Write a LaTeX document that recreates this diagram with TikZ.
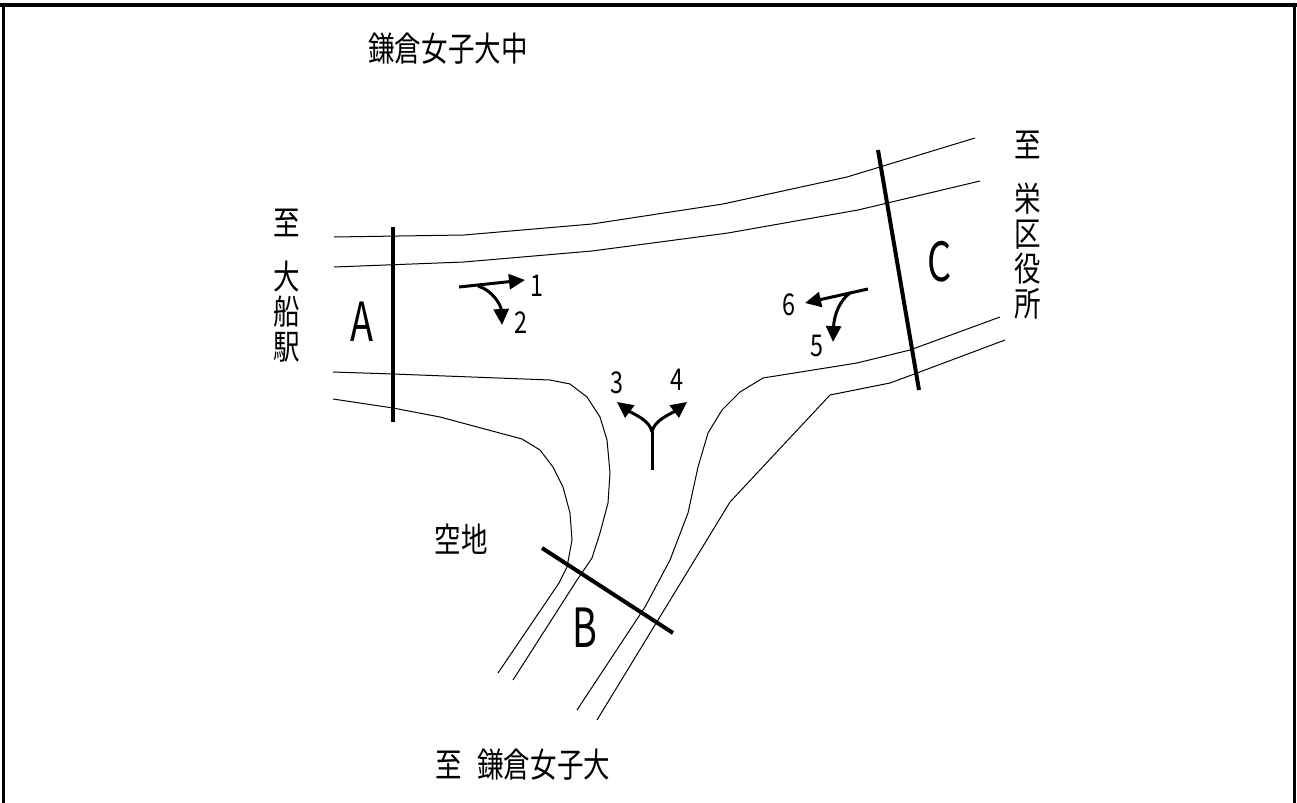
\documentclass[tikz,border=0pt]{standalone}
\usepackage{fontspec}
\newfontfamily\cjk[FakeStretch=0.78]{Noto Sans CJK JP}
\newfontfamily\letterfont[FakeStretch=0.7]{Noto Sans CJK JP}
\usetikzlibrary{arrows.meta, positioning}

\begin{document}
\begin{tikzpicture}[
        x=0.5pt, y=-0.5pt,
        every node/.style={align=center, inner sep=0pt},
        road/.style={line width=0.5pt, line join=round},
        bar/.style={line width=2pt},
        frame/.style={line width=1.5pt},
        turn/.style={-{Triangle[length=8pt, width=7.5pt]}, line width=1.5pt},
        place/.style={font=\cjk\fontsize{17pt}{17.5pt}\selectfont},
        letter/.style={font=\letterfont\fontsize{27pt}{27pt}\selectfont},
        num/.style={font=\cjk\fontsize{15pt}{15pt}\selectfont},
    ]
    \useasboundingbox (0,0) rectangle (1297,803);
    % Frame
    \draw[line width=2pt] (0,5) -- (1297,5);
    \draw[frame] (3,5) -- (3,803);
    \draw[frame] (1294,5) -- (1294,803);
    % Roads
    \draw[road] (334,237) -- (464,235) -- (592,224) -- (723,204) -- (847,177) -- (975,138);
    \draw[road] (334,267) -- (464,262) -- (592,251) -- (728,233) -- (858,210) -- (980,181);
    \draw[road] (333,372) -- (393,374) -- (550,380) -- (570,384) -- (587,397) -- (600,417)
        -- (607,440) -- (610,473) -- (608,503) -- (600,533) -- (592,558) -- (577,580) -- (513,680);
    \draw[road] (333,399) -- (393,408) -- (440,417) -- (522,439) -- (540,450) -- (553,467)
        -- (563,487) -- (570,513) -- (572,540) -- (567,567) -- (559,583) -- (498,673);
    \draw[road] (1000,317) -- (910,350) -- (857,363) -- (763,378) -- (740,392) -- (722,410)
        -- (708,433) -- (698,467) -- (688,513) -- (670,560) -- (645,607) -- (577,710);
    \draw[road] (1005,340) -- (917,373) -- (890,383) -- (830,395) -- (730,502) -- (597,720);
    % Sections
    \draw[bar] (393,227) -- (393,422);
    \draw[bar] (878,150) -- (919,390);
    \draw[bar] (542,548) -- (673,633);
    % Nodes
    \node[place] (top) at (448,49) {鎌倉女子大中};
    \node[place] (westTo) at (287,223) {至};
    \node[place] (west) at (287,312) {大\\船\\駅};
    \node[place] (eastTo) at (1028,145) {至};
    \node[place] (east) at (1028,251) {栄\\区\\役\\所};
    \node[place] (south) at (523,765) {至\hspace{7.5pt}鎌倉女子大};
    \node[place] (lot) at (461,539) {空地};
    \node[letter] (A) at (362,322) {A};
    \node[letter] (B) at (585,628) {B};
    \node[letter] (C) at (940,262) {C};
    \node[num] (n1) at (537,286) {1};
    \node[num] (n2) at (521,323) {2};
    \node[num] (n3) at (617,383) {3};
    \node[num] (n4) at (677,380) {4};
    \node[num] (n5) at (817,346) {5};
    \node[num] (n6) at (789,305) {6};
    % Arrows
    \coordinate (a0) at (459,287);
    \coordinate (a1) at (525,280);
    \coordinate (a2s) at (478,286);
    \coordinate (a2) at (502,325);
    \coordinate (c0) at (868,289);
    \coordinate (c6) at (805,303);
    \coordinate (c5s) at (850,293);
    \coordinate (c5) at (833,342);
    \coordinate (b0) at (652,470);
    \coordinate (bj) at (652,432);
    \coordinate (b3) at (617,402);
    \coordinate (b4) at (687,402);
    \draw[turn] (a0) -- (a1);
    \draw[turn] (a2s) .. controls (492,290) and (501,305) .. (a2);
    \draw[turn] (c0) -- (c6);
    \draw[turn] (c5s) .. controls (840,300) and (834,315) .. (c5);
    \draw[line width=1.5pt] (b0) -- (bj);
    \draw[turn] (bj) .. controls (650,420) and (633,414) .. (b3);
    \draw[turn] (bj) .. controls (654,420) and (671,414) .. (b4);
\end{tikzpicture}
\end{document}
